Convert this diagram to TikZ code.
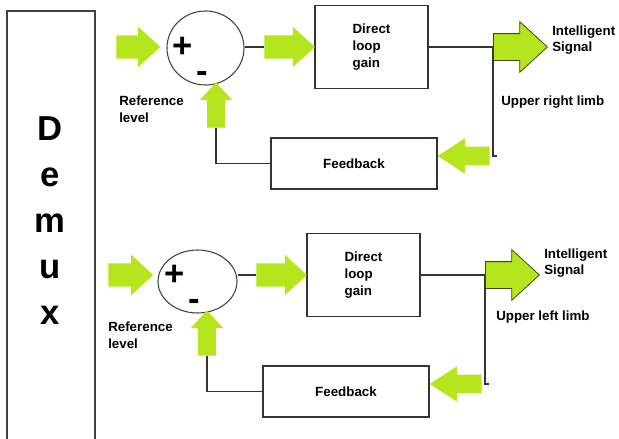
\documentclass[tikz,border=0pt]{standalone}
\usepackage{fontspec}
\setmainfont{Liberation Sans}
\usetikzlibrary{shapes.arrows, shapes.geometric}
\definecolor{limeg}{HTML}{B5E61D}
\definecolor{rimg}{HTML}{3A4A12}
\tikzset{
  lbl/.style={inner sep=0pt, align=left, font=\bfseries\fontsize{10}{12.5}\selectfont},
  block/.style={draw=black!80, line width=0.8pt, inner sep=0pt,
    font=\bfseries\fontsize{10}{12.5}\selectfont},
  gainbox/.style={block, minimum width=84.75pt, minimum height=62pt, align=left},
  fbbox/.style={block, minimum width=124.5pt, minimum height=38.25pt},
  sumnode/.style={ellipse, draw=black!75, line width=0.8pt, inner sep=0pt},
  sign/.style={inner sep=0pt, font=\bfseries\fontsize{26}{26}\selectfont},
  fat/.style={single arrow, fill=limeg, anchor=tail, inner xsep=0pt,
    single arrow tip angle=85},
  fwd/.style={fat, inner ysep=8.6pt, single arrow head extend=6.4pt},
  sig/.style={fat, draw=rimg, line width=0.6pt, minimum height=40.5pt,
    inner ysep=9.75pt, single arrow head extend=9pt},
  back/.style={fat, rotate=180, minimum height=39pt, inner ysep=6.75pt,
    single arrow head extend=6.4pt, single arrow tip angle=66},
  rise/.style={fat, rotate=90, minimum height=34pt, inner ysep=6.4pt,
    single arrow head extend=5.6pt},
  wire/.style={draw=black!80, line width=0.8pt},
}

\begin{document}
\begin{tikzpicture}[x=0.75pt, y=-0.75pt]
  \useasboundingbox (0,0) rectangle (619,439);
  \clip (0,0) rectangle (619,439);

  % Demux
  \node[draw=black!75, line width=0.8pt, minimum width=66pt, minimum height=325.5pt] (demux) at (51,228) {};
  \node[inner sep=0pt, align=center, font=\bfseries\fontsize{26}{34.5}\selectfont] (dmxtext) at (50,221) {D\\e\\m\\u\\x};

  % Upper right limb
  \node[sumnode, minimum width=57.75pt, minimum height=55.5pt] (sumT) at (205.5,48) {};
  \node[sign] (plusT) at (183,47) {+};
  \node[sign] (minusT) at (202,77) {-};
  \node[gainbox] (gainT) at (371.5,47) {Direct\\loop\\gain};
  \node[fbbox] (fbT) at (354,163.5) {Feedback};

  \node[lbl, anchor=west] (refT) at (119,109) {Reference\\level};
  \node[lbl, anchor=west] (sigTl) at (552,40) {Intelligent\\Signal};
  \node[lbl, anchor=west] (limbT) at (501,102) {Upper right limb};

  \node[fwd, minimum height=33pt] (inT) at (116,47) {};
  \node[fwd, minimum height=38pt] (outT) at (264,47) {};
  \coordinate (jT) at (493,47);

  \draw[wire] (sumT.east |- outT.tail) -- (outT.tail);
  \draw[wire] (gainT.east) -- (jT);
  \draw[wire] (jT) |- (497,156);
  \draw[wire] (fbT.west) -| (216,128);

  \node[sig] (sigT) at (jT) {};
  \node[back] (fbaT) at (490,156) {};
  \node[rise] (upT) at (216,128) {};

  % Upper left limb
  \node[sumnode, minimum width=59.25pt, minimum height=47.25pt] (sumB) at (197.5,281.5) {};
  \node[sign] (plusB) at (175,275) {+};
  \node[sign] (minusB) at (194,305) {-};
  \node[gainbox] (gainB) at (363.5,275) {Direct\\loop\\gain};
  \node[fbbox] (fbB) at (346,391.5) {Feedback};

  \node[lbl, anchor=west] (refB) at (108,335) {Reference\\level};
  \node[lbl, anchor=west] (sigBl) at (544,263) {Intelligent\\Signal};
  \node[lbl, anchor=west] (limbB) at (496,317) {Upper left limb};

  \node[fwd, minimum height=33.75pt] (inB) at (108,275) {};
  \node[fwd, minimum height=38pt] (outB) at (256,275) {};
  \coordinate (jB) at (485,275);

  \draw[wire] (sumB.east |- outB.tail) -- (outB.tail);
  \draw[wire] (gainB.east) -- (jB);
  \draw[wire] (jB) |- (489,384);
  \draw[wire] (fbB.west) -| (207,356);

  \node[sig] (sigB) at (jB) {};
  \node[back] (fbaB) at (482,384) {};
  \node[rise] (upB) at (207,356) {};
\end{tikzpicture}
\end{document}
